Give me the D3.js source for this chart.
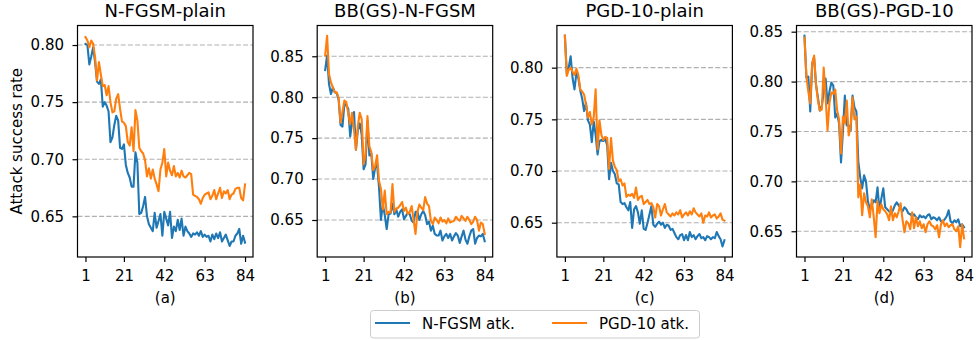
<!DOCTYPE html>
<html>
<head>
<meta charset="utf-8">
<script src="https://cdn.jsdelivr.net/npm/d3@7"></script>
<style>
  body { margin: 0; background: #fff; }
  svg { font-family: "DejaVu Sans", sans-serif; }
</style>
</head>
<body>
<svg id="chart" width="976" height="340"></svg>
<script>
// ---- data ----
const titles = ["N-FGSM-plain", "BB(GS)-N-FGSM", "PGD-10-plain", "BB(GS)-PGD-10"];
const subLabels = ["(a)", "(b)", "(c)", "(d)"];
const seriesNames = ["N-FGSM atk.", "PGD-10 atk."];
const yLabel = "Attack success rate";
const xTicks = [1, 21, 42, 63, 84];
const yTicksA = [0.65, 0.70, 0.75, 0.80];
const yTicksB = [0.65, 0.70, 0.75, 0.80, 0.85];
const yTicksC = [0.65, 0.70, 0.75, 0.80];
const yTicksD = [0.65, 0.70, 0.75, 0.80, 0.85];

const aNFGSM = [0.801,0.800,0.783,0.790,0.798,0.785,0.768,0.766,0.770,0.746,0.750,0.747,0.742,0.715,0.719,0.730,0.738,0.734,0.710,0.709,
  0.713,0.695,0.688,0.684,0.676,0.676,0.706,0.697,0.652,0.653,0.659,0.667,0.650,0.643,0.640,0.637,0.653,0.640,0.646,0.652,
  0.633,0.654,0.648,0.642,0.654,0.631,0.641,0.637,0.647,0.638,0.648,0.633,0.641,0.637,0.635,0.632,0.635,0.634,0.636,0.633,
  0.637,0.632,0.634,0.632,0.633,0.628,0.634,0.630,0.635,0.631,0.636,0.628,0.631,0.634,0.629,0.624,0.628,0.628,0.633,0.635,
  0.639,0.626,0.633,0.627];
const aPGD = [0.807,0.804,0.798,0.804,0.801,0.789,0.769,0.785,0.774,0.764,0.765,0.756,0.764,0.750,0.741,0.742,0.753,0.757,0.744,0.733,
  0.732,0.729,0.715,0.712,0.728,0.707,0.743,0.734,0.710,0.707,0.705,0.699,0.685,0.692,0.683,0.691,0.683,0.678,0.672,0.691,
  0.697,0.709,0.685,0.697,0.690,0.686,0.694,0.685,0.688,0.684,0.690,0.685,0.684,0.686,0.688,0.687,0.669,0.668,0.667,0.665,
  0.661,0.666,0.669,0.670,0.671,0.665,0.668,0.673,0.665,0.670,0.675,0.666,0.672,0.670,0.673,0.665,0.669,0.670,0.674,0.675,
  0.675,0.666,0.664,0.678];
const bNFGSM = [0.833,0.851,0.816,0.804,0.812,0.806,0.805,0.797,0.766,0.764,0.792,0.790,0.786,0.752,0.770,0.782,0.736,0.760,0.768,0.754,
  0.712,0.718,0.771,0.729,0.731,0.700,0.714,0.718,0.690,0.650,0.669,0.656,0.639,0.657,0.658,0.670,0.657,0.663,0.654,0.660,
  0.663,0.651,0.655,0.659,0.657,0.649,0.647,0.660,0.660,0.650,0.657,0.661,0.656,0.645,0.648,0.637,0.643,0.633,0.631,0.631,
  0.637,0.625,0.630,0.633,0.628,0.633,0.625,0.630,0.634,0.631,0.622,0.630,0.637,0.626,0.621,0.630,0.637,0.639,0.621,0.628,
  0.631,0.630,0.633,0.624];
const bPGD = [0.851,0.875,0.828,0.818,0.812,0.806,0.806,0.799,0.769,0.782,0.796,0.794,0.780,0.767,0.781,0.760,0.736,0.765,0.781,0.773,
  0.718,0.730,0.777,0.740,0.733,0.711,0.716,0.729,0.698,0.688,0.663,0.686,0.657,0.660,0.659,0.694,0.660,0.664,0.665,0.668,
  0.672,0.661,0.665,0.657,0.660,0.667,0.650,0.633,0.660,0.669,0.665,0.662,0.678,0.670,0.667,0.649,0.645,0.653,0.650,0.646,
  0.653,0.648,0.650,0.646,0.652,0.647,0.648,0.649,0.654,0.651,0.649,0.655,0.652,0.649,0.654,0.650,0.645,0.648,0.654,0.650,
  0.637,0.647,0.645,0.633];
const cNFGSM = [0.831,0.794,0.800,0.811,0.790,0.779,0.795,0.790,0.778,0.770,0.758,0.766,0.749,0.745,0.728,0.748,0.735,0.716,0.729,0.730,
  0.729,0.731,0.725,0.692,0.708,0.700,0.697,0.688,0.687,0.670,0.668,0.669,0.665,0.662,0.670,0.645,0.663,0.666,0.660,0.649,
  0.662,0.644,0.643,0.650,0.658,0.666,0.648,0.646,0.649,0.651,0.648,0.650,0.645,0.648,0.647,0.643,0.644,0.640,0.636,0.634,
  0.638,0.639,0.633,0.638,0.633,0.641,0.636,0.638,0.634,0.637,0.639,0.635,0.636,0.633,0.637,0.636,0.634,0.636,0.635,0.641,
  0.637,0.634,0.627,0.633];
const cPGD = [0.831,0.792,0.798,0.800,0.796,0.793,0.799,0.793,0.779,0.777,0.774,0.764,0.752,0.757,0.745,0.752,0.779,0.721,0.749,0.735,
  0.730,0.733,0.732,0.702,0.732,0.710,0.704,0.701,0.690,0.692,0.686,0.688,0.675,0.677,0.676,0.678,0.674,0.684,0.672,0.675,
  0.676,0.668,0.670,0.672,0.668,0.669,0.665,0.655,0.668,0.666,0.657,0.663,0.668,0.660,0.658,0.656,0.659,0.657,0.660,0.658,
  0.662,0.655,0.658,0.660,0.657,0.661,0.658,0.664,0.660,0.658,0.656,0.659,0.650,0.657,0.656,0.660,0.655,0.657,0.658,0.654,
  0.656,0.659,0.653,0.652];
const dNFGSM = [0.846,0.804,0.805,0.770,0.818,0.824,0.797,0.784,0.771,0.775,0.790,0.803,0.778,0.790,0.799,0.796,0.764,0.768,0.758,0.719,
  0.750,0.786,0.756,0.756,0.751,0.786,0.774,0.770,0.720,0.704,0.693,0.706,0.700,0.680,0.672,0.676,0.681,0.679,0.694,0.671,
  0.683,0.693,0.674,0.672,0.670,0.667,0.671,0.676,0.679,0.676,0.673,0.670,0.674,0.672,0.668,0.667,0.665,0.667,0.664,0.662,
  0.666,0.664,0.665,0.663,0.666,0.667,0.662,0.664,0.663,0.661,0.664,0.660,0.660,0.662,0.665,0.671,0.660,0.658,0.661,0.659,
  0.662,0.655,0.657,0.654];
const dPGD = [0.844,0.805,0.790,0.778,0.818,0.826,0.797,0.781,0.771,0.772,0.814,0.784,0.751,0.779,0.789,0.788,0.792,0.771,0.762,0.728,
  0.765,0.758,0.781,0.746,0.755,0.784,0.762,0.765,0.684,0.697,0.666,0.688,0.679,0.675,0.664,0.682,0.665,0.644,0.680,0.668,
  0.677,0.672,0.670,0.667,0.661,0.675,0.661,0.668,0.664,0.670,0.678,0.662,0.649,0.660,0.658,0.652,0.669,0.653,0.664,0.655,
  0.660,0.653,0.657,0.649,0.657,0.660,0.656,0.655,0.652,0.656,0.644,0.657,0.661,0.655,0.658,0.654,0.656,0.657,0.652,0.650,
  0.655,0.634,0.657,0.643];

// ---- layout ----
const colors = ["#1f77b4", "#ff7f0e"];
const plotTop = 25.5, plotH = 231.5, plotW = 175.5;
const lefts = [77.5, 317.2, 556.9, 796.5];
const yDomains = [[0.6144, 0.8171], [0.6048, 0.8876], [0.6168, 0.8408], [0.6242, 0.8562]];

const panels = [
  { series: [aNFGSM, aPGD], yTicks: yTicksA },
  { series: [bNFGSM, bPGD], yTicks: yTicksB },
  { series: [cNFGSM, cPGD], yTicks: yTicksC },
  { series: [dNFGSM, dPGD], yTicks: yTicksD }
];

const svg = d3.select("#chart");
const x = d3.scaleLinear().domain([-3.15, 88.15]).range([0, plotW]);

panels.forEach((p, k) => {
  const g = svg.append("g").attr("transform", `translate(${lefts[k]},${plotTop})`);
  const y = d3.scaleLinear().domain(yDomains[k]).range([plotH, 0]);

  // horizontal dashed grid
  g.selectAll(".grid").data(p.yTicks).join("line")
    .attr("x1", 0).attr("x2", plotW)
    .attr("y1", d => y(d)).attr("y2", d => y(d))
    .attr("stroke", "#b0b0b0").attr("stroke-width", 1.1)
    .attr("stroke-dasharray", "5,2.2");

  const line = d3.line()
    .x((d, i) => x(i + 1))
    .y(d => y(d));

  p.series.forEach((s, j) => {
    g.append("path").datum(s)
      .attr("d", line)
      .attr("fill", "none")
      .attr("stroke", colors[j])
      .attr("stroke-width", 2.1)
      .attr("stroke-linejoin", "round")
      .attr("stroke-linecap", "square");
  });

  // axes
  const xAxis = g.append("g").attr("transform", `translate(0,${plotH})`)
    .call(d3.axisBottom(x).tickValues(xTicks).tickSize(5).tickPadding(8.5));
  const yAxis = g.append("g")
    .call(d3.axisLeft(y).tickValues(p.yTicks).tickSize(5).tickPadding(8.5).tickFormat(d3.format(".2f")));
  [xAxis, yAxis].forEach(a => {
    a.select(".domain").remove();
    a.selectAll(".tick line").attr("stroke", "#000").attr("stroke-width", 1.2);
    a.selectAll(".tick text").attr("fill", "#000").style("font-size", "15px")
      .style("font-family", '"DejaVu Sans", sans-serif');
  });

  // spines
  g.append("rect")
    .attr("x", 0).attr("y", 0).attr("width", plotW).attr("height", plotH)
    .attr("fill", "none").attr("stroke", "#000").attr("stroke-width", 1.2);

  g.append("text")
    .attr("x", plotW / 2).attr("y", -9)
    .attr("text-anchor", "middle").style("font-size", "18px")
    .text(titles[k]);

  g.append("text")
    .attr("x", plotW / 2).attr("y", 277.5)
    .attr("text-anchor", "middle").style("font-size", "15px")
    .text(subLabels[k]);
});

svg.append("text")
  .attr("transform", `translate(21.5,${plotTop + plotH / 2}) rotate(-90)`)
  .attr("text-anchor", "middle").style("font-size", "15px")
  .text(yLabel);

// legend
const legend = svg.append("g");
legend.append("rect")
  .attr("x", 370.5).attr("y", 310.5).attr("width", 329).attr("height", 27.5)
  .attr("rx", 3).attr("fill", "#fff").attr("fill-opacity", 0.8)
  .attr("stroke", "#cccccc").attr("stroke-width", 1);
const itemX = [375, 552];
seriesNames.forEach((name, j) => {
  legend.append("line")
    .attr("x1", itemX[j]).attr("x2", itemX[j] + 35)
    .attr("y1", 323).attr("y2", 323)
    .attr("stroke", colors[j]).attr("stroke-width", 2.1);
  legend.append("text")
    .attr("x", itemX[j] + 47).attr("y", 329)
    .style("font-size", "15px")
    .text(name);
});
</script>
</body>
</html>
